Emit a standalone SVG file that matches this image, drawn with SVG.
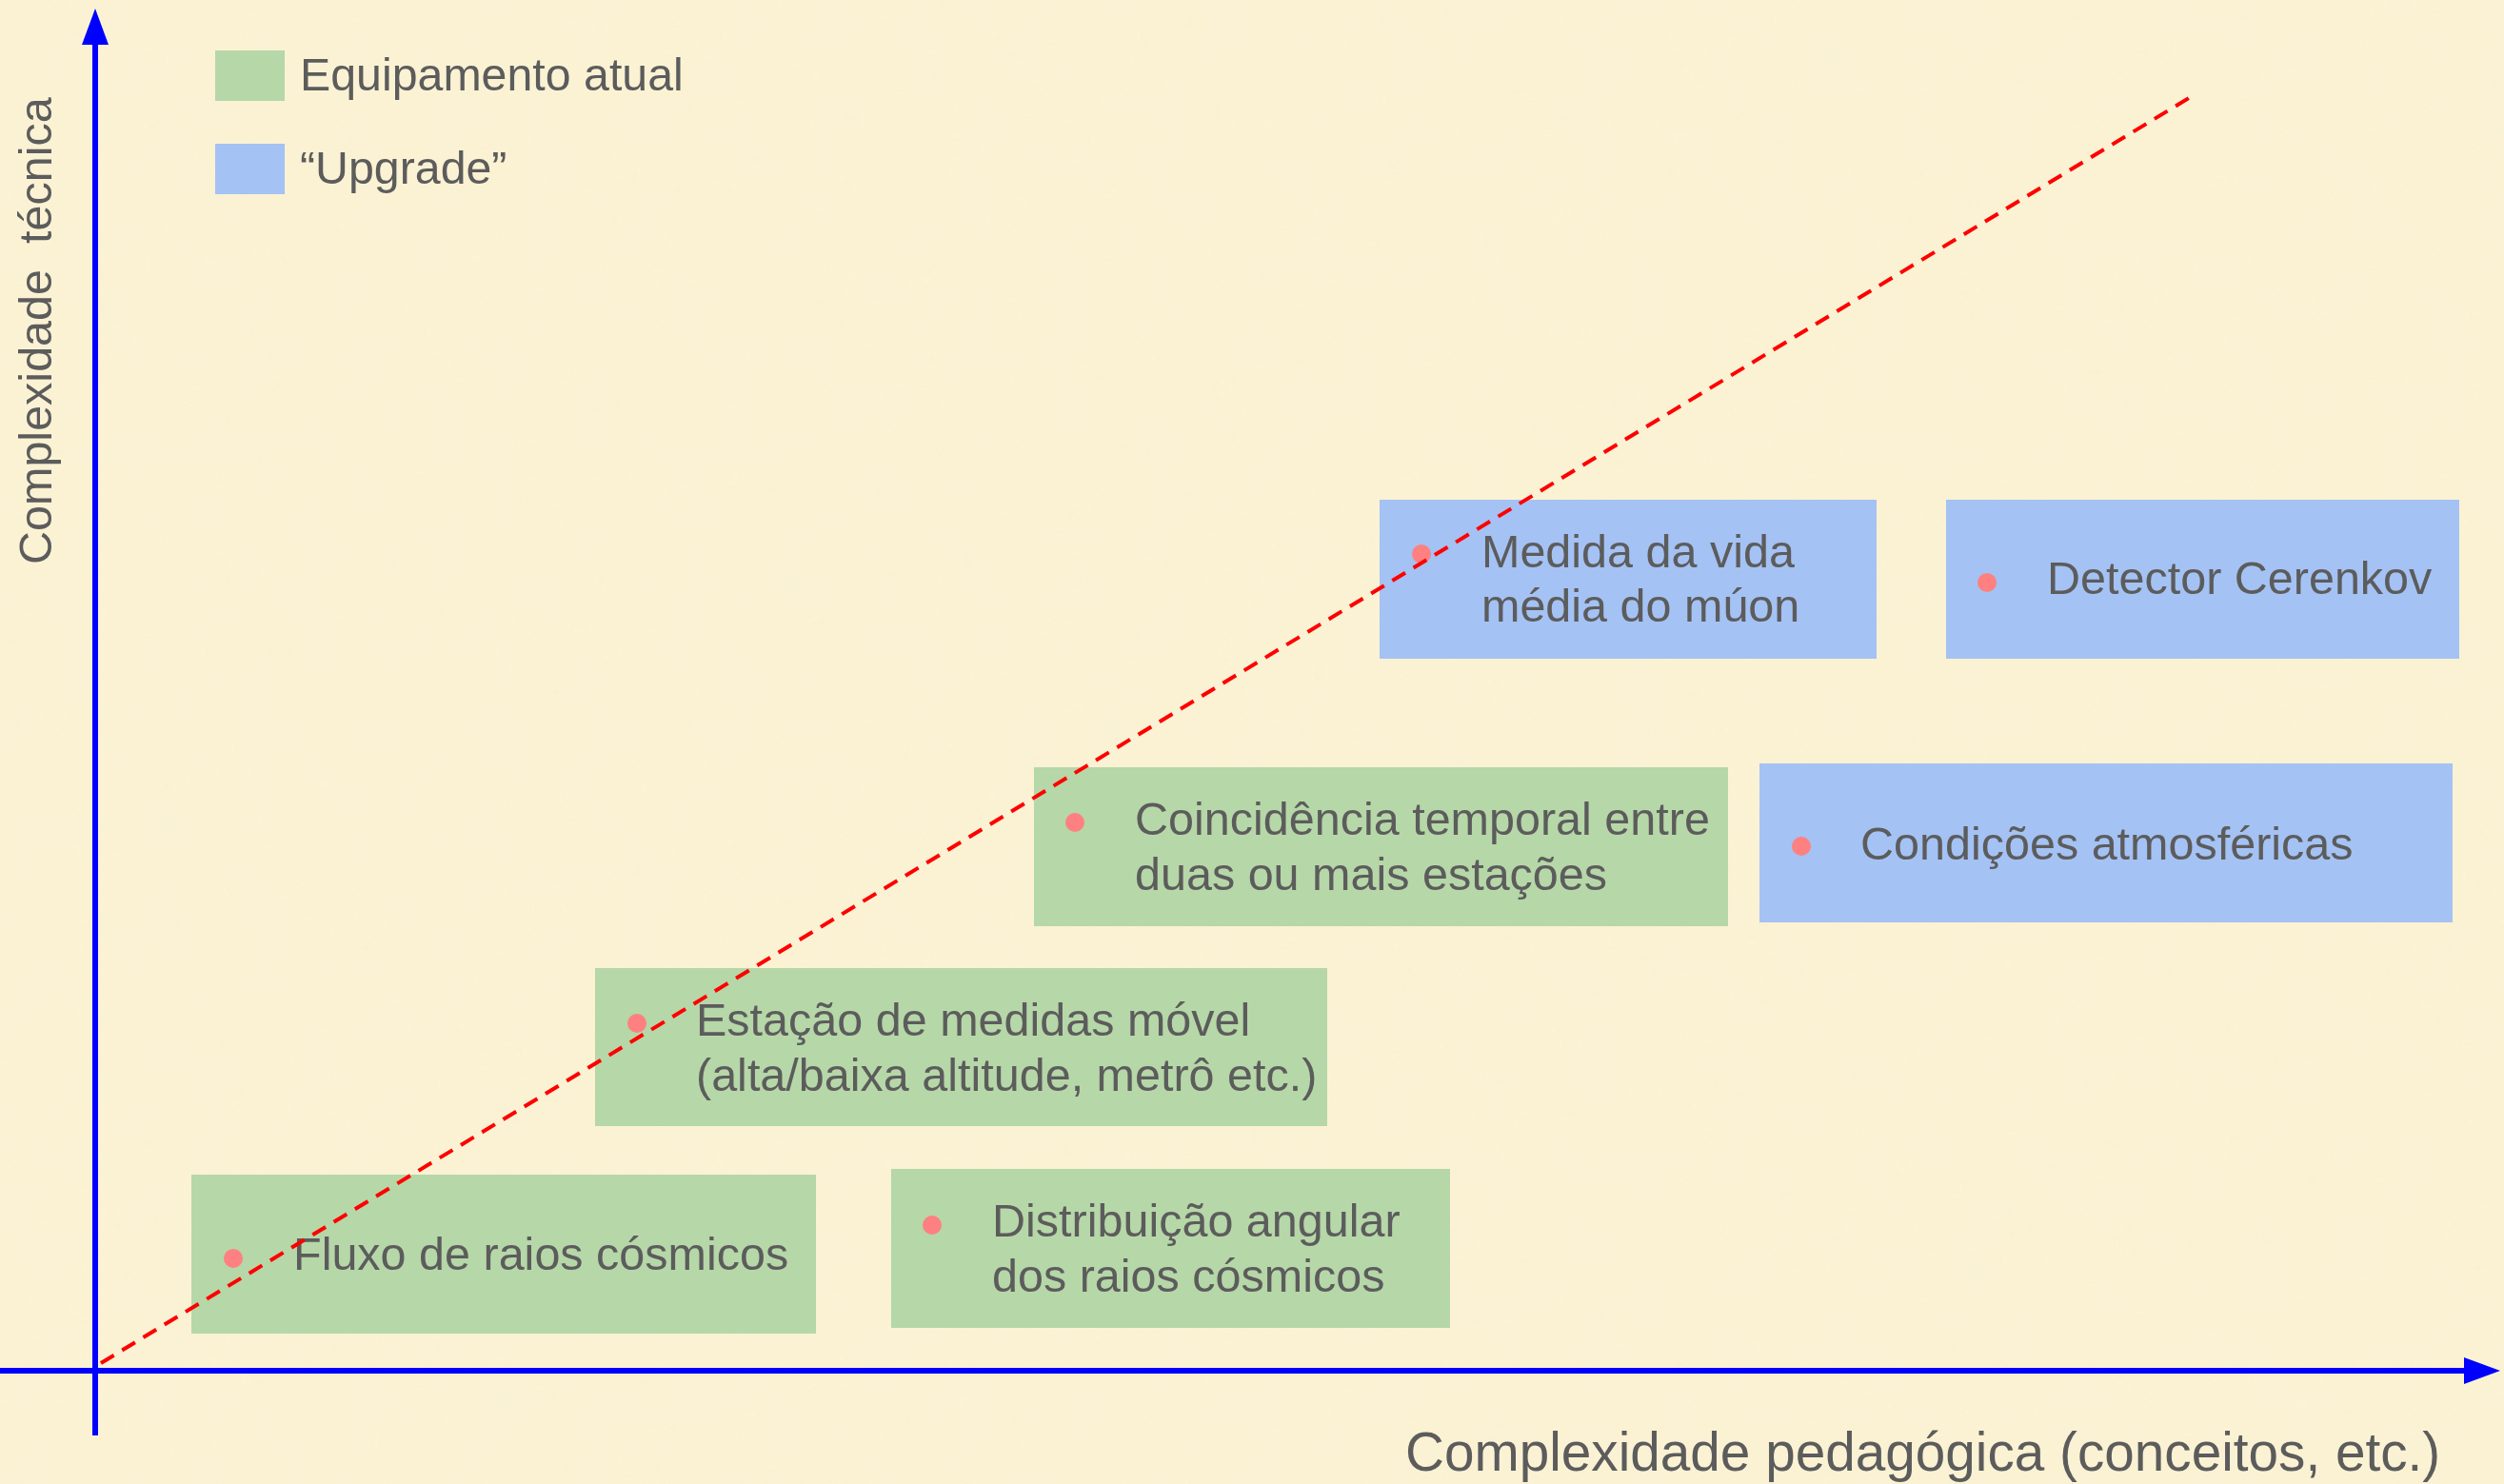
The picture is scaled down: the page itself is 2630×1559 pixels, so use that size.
<svg xmlns="http://www.w3.org/2000/svg" width="2630" height="1559" viewBox="0 0 2630 1559">
  <defs>
    <marker id="arrow" markerUnits="userSpaceOnUse" markerWidth="40" markerHeight="30" viewBox="0 -15 40 30" refX="1" refY="0" orient="auto">
      <path d="M0,-14 L38,0 L0,14 z" fill="#0000ff"/>
    </marker>
    <filter id="paper" x="0" y="0" width="100%" height="100%">
      <feTurbulence type="fractalNoise" baseFrequency="0.02" numOctaves="3" seed="4" result="n"/>
      <feColorMatrix in="n" type="matrix" values="0 0 0 0 0.93  0 0 0 0 0.88  0 0 0 0 0.72  0 0 0 0.35 -0.05" result="c"/>
      <feComposite in="c" in2="SourceGraphic" operator="in"/>
    </filter>
    <style>
      .t { font-family: "Liberation Sans", Arial, Helvetica, sans-serif; fill: #5c5c5c; }
      .box { font-size: 48.5px; }
      .green { fill: #b6d7a8; }
      .blue { fill: #a4c2f4; }
      .dot { fill: #ff8080; }
      .axis { stroke: #0000ff; stroke-width: 6; fill: none; }
      .diag { stroke: #ff0000; stroke-width: 4; stroke-dasharray: 16 10; fill: none; }
    </style>
  </defs>

  <rect x="0" y="0" width="2630" height="1559" fill="#fbf2d3"/>
  <rect x="0" y="0" width="2630" height="1559" fill="#fbf2d3" filter="url(#paper)" opacity="0.6"/>

  <g id="legend">
    <rect class="green" x="226" y="53" width="73" height="53"/>
    <text class="t" x="315" y="95" font-size="48.3">Equipamento atual</text>
    <rect class="blue" x="226" y="151" width="73" height="53"/>
    <text class="t" x="315" y="193" font-size="48.3">“Upgrade”</text>
  </g>

  <g id="axis-labels">
    <text class="t" font-size="48.5" style="white-space:pre" transform="translate(54,593) rotate(-90)">Complexidade  técnica</text>
    <text class="t" x="1476" y="1545" font-size="56.7">Complexidade pedagógica (conceitos, etc.)</text>
  </g>

  <g id="node-fluxo">
    <rect class="green" x="201" y="1234" width="656" height="167"/>
    <circle class="dot" cx="245" cy="1322" r="10"/>
    <text class="t box" x="308" y="1334">Fluxo de raios cósmicos</text>
  </g>

  <g id="node-distribuicao">
    <rect class="green" x="936" y="1228" width="587" height="167"/>
    <circle class="dot" cx="979" cy="1287" r="10"/>
    <text class="t box" x="1042" y="1299">Distribuição angular</text>
    <text class="t box" x="1042" y="1357">dos raios cósmicos</text>
  </g>

  <g id="node-estacao">
    <rect class="green" x="625" y="1017" width="769" height="166"/>
    <circle class="dot" cx="669" cy="1075" r="10"/>
    <text class="t box" x="731" y="1088">Estação de medidas móvel</text>
    <text class="t box" x="731" y="1146">(alta/baixa altitude, metrô etc.)</text>
  </g>

  <g id="node-coincidencia">
    <rect class="green" x="1086" y="806" width="729" height="167"/>
    <circle class="dot" cx="1129" cy="864" r="10"/>
    <text class="t box" x="1192" y="877">Coincidência temporal entre</text>
    <text class="t box" x="1192" y="935">duas ou mais estações</text>
  </g>

  <g id="node-condicoes">
    <rect class="blue" x="1848" y="802" width="728" height="167"/>
    <circle class="dot" cx="1892" cy="889" r="10"/>
    <text class="t box" x="1954" y="903">Condições atmosféricas</text>
  </g>

  <g id="node-medida">
    <rect class="blue" x="1449" y="525" width="522" height="167"/>
    <circle class="dot" cx="1493" cy="582" r="10"/>
    <text class="t box" x="1556" y="596">Medida da vida</text>
    <text class="t box" x="1556" y="653">média do múon</text>
  </g>

  <g id="node-detector">
    <rect class="blue" x="2044" y="525" width="539" height="167"/>
    <circle class="dot" cx="2087" cy="612" r="10"/>
    <text class="t box" x="2150" y="624">Detector Cerenkov</text>
  </g>

  <g id="connectors">
    <line class="axis" x1="100" y1="1508" x2="100" y2="46" marker-end="url(#arrow)"/>
    <line class="axis" x1="0" y1="1440" x2="2589" y2="1440" marker-end="url(#arrow)"/>
    <line class="diag" x1="106" y1="1432" x2="2299" y2="103"/>
  </g>
</svg>
